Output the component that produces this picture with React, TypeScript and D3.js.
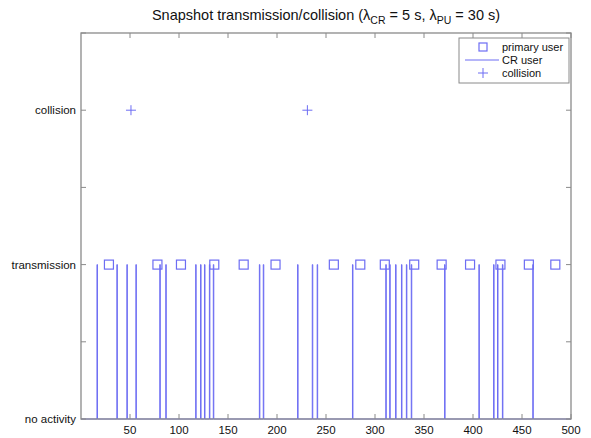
import React, { useEffect, useRef } from "react";
import * as d3 from "d3";

// time (s) of primary user activity (shown at "transmission" level)
const primaryUser = [28.5, 78, 102, 136, 166, 198.5, 258, 285, 310, 340, 368, 397, 428, 457, 484];
// time (s) of CR user transmissions
const crUser = [
  16.3, 36.6, 46.8, 56, 80.4, 86.5, 117, 122, 126, 131, 135, 182, 186, 221, 236, 241, 277,
  311, 315, 321, 327, 332, 337, 371, 406, 421, 425, 430, 461,
];
// time (s) of collisions
const collisions = [51, 231];

const xTicks = [50, 100, 150, 200, 250, 300, 350, 400, 450, 500];
const yTicks = [0, 0.5, 1, 1.5, 2, 2.5];
const yLabels: Record<number, string> = { 0: "no activity", 1: "transmission", 2: "collision" };

const W = 591;
const H = 438;
const BLUE = "#6d6df3";
const AXIS = "#8a8a8a";

export default function App() {
  const ref = useRef<SVGSVGElement | null>(null);

  useEffect(() => {
    if (!ref.current) return;
    const svg = d3.select(ref.current);
    svg.selectAll("*").remove();

    const margin = { top: 33, right: 20, bottom: 19, left: 81 };
    const x = d3.scaleLinear().domain([0, 500]).range([margin.left, W - margin.right]);
    const y = d3.scaleLinear().domain([0, 2.5]).range([H - margin.bottom, margin.top]);

    const font = "'Liberation Sans', Arial, Helvetica, sans-serif";

    // CR user pulses as one continuous line
    const pts: [number, number][] = [[0, 0]];
    crUser.forEach((t) => {
      pts.push([t, 0], [t, 1], [t + 0.5, 1], [t + 0.5, 0]);
    });
    pts.push([500, 0]);
    svg
      .append("path")
      .datum(pts)
      .attr("fill", "none")
      .attr("stroke", BLUE)
      .attr("stroke-width", 1)
      .attr(
        "d",
        d3
          .line<[number, number]>()
          .x((d) => x(d[0]))
          .y((d) => y(d[1]))
      );

    // primary user squares
    const sq = 9;
    svg
      .selectAll("rect.pu")
      .data(primaryUser)
      .enter()
      .append("rect")
      .attr("class", "pu")
      .attr("x", (d) => x(d) - sq / 2)
      .attr("y", y(1) - sq / 2)
      .attr("width", sq)
      .attr("height", sq)
      .attr("fill", "none")
      .attr("stroke", BLUE)
      .attr("stroke-width", 1.2);

    // collision pluses
    const ps = 5;
    collisions.forEach((c) => {
      svg
        .append("path")
        .attr("d", `M${x(c) - ps},${y(2)}H${x(c) + ps}M${x(c)},${y(2) - ps}V${y(2) + ps}`)
        .attr("stroke", BLUE)
        .attr("stroke-width", 1);
    });

    // axes box
    const x0 = x(0), x1 = x(500), y0 = y(0), y1 = y(2.5);
    svg
      .append("rect")
      .attr("x", x0)
      .attr("y", y1)
      .attr("width", x1 - x0)
      .attr("height", y0 - y1)
      .attr("fill", "none")
      .attr("stroke", AXIS)
      .attr("stroke-width", 1.3);

    const tl = 5;
    // x ticks (inward, bottom and top)
    xTicks.forEach((t) => {
      svg.append("line").attr("x1", x(t)).attr("x2", x(t)).attr("y1", y0).attr("y2", y0 - tl).attr("stroke", AXIS);
      svg.append("line").attr("x1", x(t)).attr("x2", x(t)).attr("y1", y1).attr("y2", y1 + tl).attr("stroke", AXIS);
      svg
        .append("text")
        .attr("x", x(t))
        .attr("y", y0 + 15)
        .attr("text-anchor", "middle")
        .attr("font-family", font)
        .attr("font-size", 11.5)
        .attr("fill", "#111")
        .text(String(t));
    });
    // y ticks
    yTicks.forEach((t) => {
      svg.append("line").attr("x1", x0).attr("x2", x0 + tl).attr("y1", y(t)).attr("y2", y(t)).attr("stroke", AXIS);
      svg.append("line").attr("x1", x1).attr("x2", x1 - tl).attr("y1", y(t)).attr("y2", y(t)).attr("stroke", AXIS);
      if (yLabels[t]) {
        svg
          .append("text")
          .attr("x", x0 - 5)
          .attr("y", y(t))
          .attr("dy", "0.35em")
          .attr("text-anchor", "end")
          .attr("font-family", font)
          .attr("font-size", 11.5)
          .attr("fill", "#111")
          .text(yLabels[t]);
      }
    });

    // title
    const title = svg
      .append("text")
      .attr("x", (x0 + x1) / 2)
      .attr("y", 20)
      .attr("text-anchor", "middle")
      .attr("font-family", font)
      .attr("font-size", 14.5)
      .attr("fill", "#111");
    title.append("tspan").text("Snapshot transmission/collision (λ");
    title.append("tspan").attr("font-size", 10.5).attr("dy", 4).text("CR");
    title.append("tspan").attr("dy", -4).text(" = 5 s, λ");
    title.append("tspan").attr("font-size", 10.5).attr("dy", 4).text("PU");
    title.append("tspan").attr("dy", -4).text(" = 30 s)");

    // legend
    const lg = svg.append("g").attr("transform", "translate(459,38)");
    lg.append("rect")
      .attr("width", 110)
      .attr("height", 45)
      .attr("fill", "white")
      .attr("stroke", AXIS)
      .attr("stroke-width", 1);
    const items = ["primary user", "CR user", "collision"];
    items.forEach((name, i) => {
      const cy = 9 + i * 13;
      const mx = 24;
      if (i === 0) {
        lg.append("rect").attr("x", mx - 4).attr("y", cy - 4).attr("width", 8).attr("height", 8)
          .attr("fill", "none").attr("stroke", BLUE).attr("stroke-width", 1.2);
      } else if (i === 1) {
        lg.append("line").attr("x1", 6).attr("x2", 40).attr("y1", cy).attr("y2", cy).attr("stroke", BLUE);
      } else {
        lg.append("path").attr("d", `M${mx - 5},${cy}H${mx + 5}M${mx},${cy - 5}V${cy + 5}`).attr("stroke", BLUE);
      }
      lg.append("text")
        .attr("x", 43)
        .attr("y", cy)
        .attr("dy", "0.35em")
        .attr("font-family", font)
        .attr("font-size", 11)
        .attr("fill", "#111")
        .text(name);
    });
  }, []);

  return (
    <div style={{ position: "absolute", left: 0, top: 0, background: "white" }}>
      <svg ref={ref} width={W} height={H} style={{ display: "block" }} />
    </div>
  );
}
